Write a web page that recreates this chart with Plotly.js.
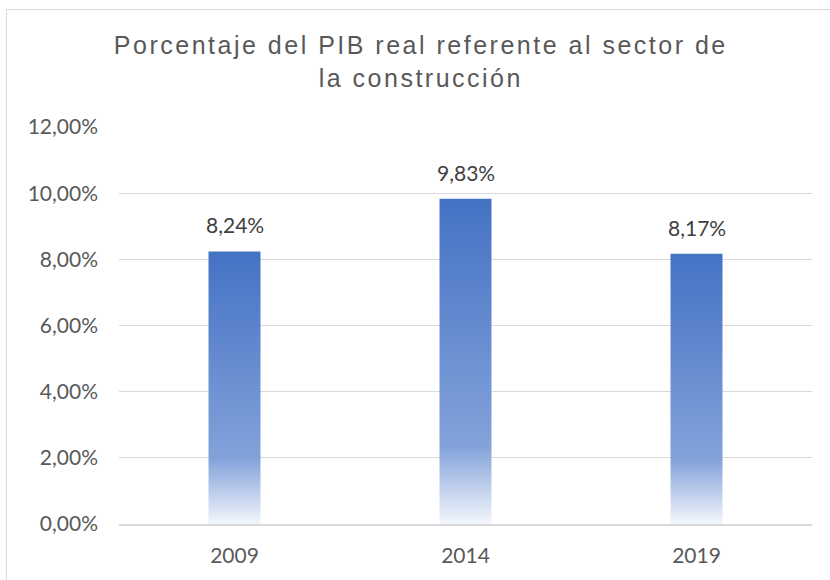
<!DOCTYPE html>
<html>
<head>
<meta charset="utf-8">
<script src="https://cdn.plot.ly/plotly-3.0.1.min.js"></script>
<style>
  html, body { margin: 0; padding: 0; background: #ffffff; }
  #frame { position: absolute; left: 6px; top: 9px; width: 900px; height: 700px;
           border-left: 1px solid #d9d9d9; border-top: 1px solid #d9d9d9; }
  #chart { position: absolute; left: 0; top: 0; width: 830px; height: 580px; }
  #chart .gtitle { letter-spacing: 2.5px; }
</style>
</head>
<body>
<div id="frame"></div>
<div id="chart"></div>
<script>
// ---- data ----
const years = ['2009', '2014', '2019'];
const values = [8.24, 9.83, 8.17];           // % del PIB real
const valueLabels = ['8,24%', '9,83%', '8,17%'];
const yTicks = [0, 2, 4, 6, 8, 10, 12];
const yTickLabels = ['0,00%', '2,00%', '4,00%', '6,00%', '8,00%', '10,00%', '12,00%'];

// ---- styling ----
const barWidth = 0.225;
const gradient = [
  [0, '#F3F6FC'],
  [0.24, '#83A2DA'],
  [1, '#4472C4']
];

const traces = years.map((yr, i) => {
  const x0 = i - barWidth / 2, x1 = i + barWidth / 2;
  return {
    type: 'scatter',
    mode: 'lines',
    name: yr,
    x: [x0, x0, x1, x1, x0],
    y: [0, values[i], values[i], 0, 0],
    fill: 'toself',
    fillgradient: { type: 'vertical', colorscale: gradient },
    line: { width: 0, color: 'rgba(0,0,0,0)' },
    hoverinfo: 'skip',
    showlegend: false
  };
});

const annotations = years.map((yr, i) => ({
  x: i, y: values[i], xref: 'x', yref: 'y',
  text: valueLabels[i], showarrow: false,
  yanchor: 'bottom', yshift: 12,
  font: { family: 'Lato, sans-serif', size: 21, color: '#404040' }
}));

const layout = {
  width: 830, height: 580,
  margin: { l: 119, r: 18, t: 127, b: 56 },
  paper_bgcolor: 'rgba(0,0,0,0)',
  plot_bgcolor: 'rgba(0,0,0,0)',
  separators: ',.',
  showlegend: false,
  title: {
    text: 'Porcentaje del PIB real referente al sector de<br>la construcción',
    x: 0.507, xanchor: 'center',
    y: 1 - 54 / 580, yanchor: 'top', yref: 'container',
    font: { family: '"Liberation Sans", Arial, sans-serif', size: 25, color: '#595959' }
  },
  xaxis: {
    range: [-0.5, 2.5],
    tickvals: [0, 1, 2],
    ticktext: years,
    showgrid: false, zeroline: false,
    showline: true, linecolor: '#d9d9d9', linewidth: 2,
    ticks: '', ticklabelstandoff: 12,
    tickfont: { family: 'Lato, sans-serif', size: 21, color: '#595959' },
    fixedrange: true
  },
  yaxis: {
    range: [0, 12],
    tickvals: yTicks,
    ticktext: yTickLabels,
    showgrid: true, gridcolor: '#d9d9d9', gridwidth: 1,
    zeroline: false, showline: false,
    ticks: '', ticklabelstandoff: 20,
    tickfont: { family: 'Lato, sans-serif', size: 21, color: '#595959' },
    fixedrange: true
  },
  annotations: annotations
};

Plotly.newPlot('chart', traces, layout, { displayModeBar: false, staticPlot: true });
</script>
</body>
</html>
